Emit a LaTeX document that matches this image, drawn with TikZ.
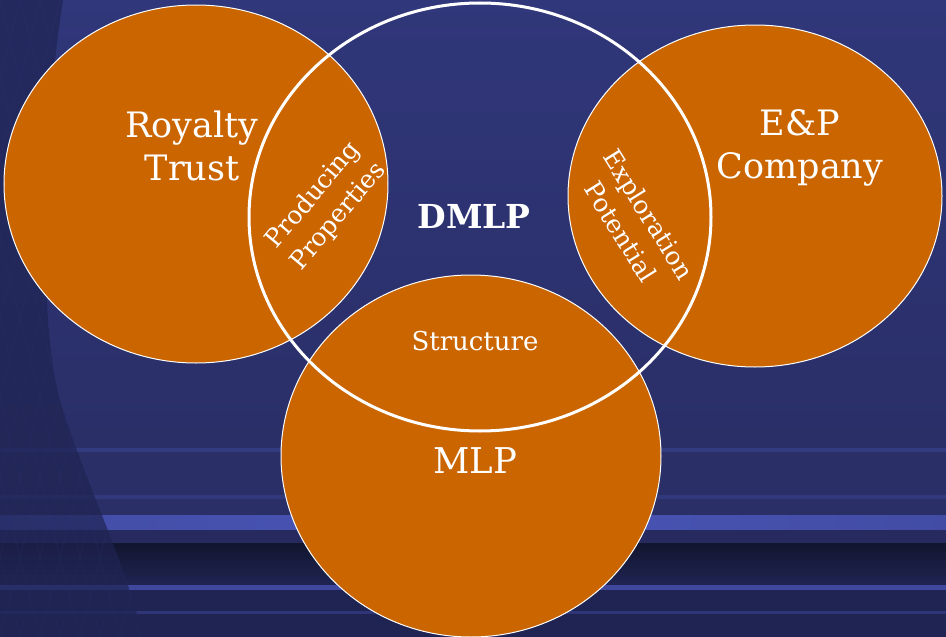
\documentclass[tikz,border=0pt]{standalone}
\usepackage{fontspec}
\setmainfont{DejaVu Serif}
\begin{document}
\definecolor{navy}{HTML}{2A2F68}
\definecolor{navytop}{HTML}{30377A}
\definecolor{navydark}{HTML}{1F2452}
\definecolor{band}{HTML}{4A56B8}
\definecolor{deep}{HTML}{12152E}
\definecolor{ochre}{HTML}{CA6500}
\begin{tikzpicture}[x=1pt,y=-1pt,
  venn/.style={fill=ochre,draw=white,line width=1pt},
  ring/.style={draw=white,line width=3pt},
  lbl/.style={text=white,align=center,inner sep=0pt},
  big/.style={lbl,font=\fontsize{35}{43}\selectfont},
  small/.style={lbl,font=\fontsize{25}{33}\selectfont}]
\useasboundingbox (0,0) rectangle (946,637);
% background
\shade[top color=navytop,bottom color=navy] (0,0) rectangle (946,440);
\fill[navy] (0,440) rectangle (946,637);
\fill[band!50!navy,opacity=0.6] (0,448) rectangle (946,452);
\fill[band!40!navy,opacity=0.6] (0,495) rectangle (946,499);
\shade[left color=band!75!navy,right color=band!75!navy,middle color=band] (0,515) rectangle (946,530);
\fill[navy!90!black] (0,530) rectangle (946,543);
\shade[top color=deep,bottom color=navydark] (0,543) rectangle (946,584);
\fill[band!65!navy] (0,585) rectangle (946,590);
\fill[navydark] (0,590) rectangle (946,637);
\fill[band!40!navy,opacity=0.7] (0,611) rectangle (946,614);
% dark curved strip at the left
\fill[navydark,opacity=0.7] (0,0) -- (63,0) .. controls (40,150) and (40,330) .. (60,400)
  .. controls (80,470) and (125,560) .. (143,637) -- (0,637) -- cycle;
\begin{scope}
  \clip (0,0) -- (63,0) .. controls (40,150) and (40,330) .. (60,400)
    .. controls (80,470) and (125,560) .. (143,637) -- (0,637) -- cycle;
  \foreach \k in {-600,-580,...,700}
    \draw[band!60!navy,opacity=0.15,line width=0.5pt] (\k,0) -- ++(160,637) (\k+160,0) -- ++(-160,637);
\end{scope}
% circles
\path[venn] (196,184) ellipse [x radius=192,y radius=179];
\path[venn] (755,196) ellipse [x radius=187,y radius=171];
\path[venn] (471,456) ellipse [x radius=190,y radius=181];
\path[ring] (480,217) ellipse [x radius=231,y radius=214];
% labels
\node[big] (rt) at (192,146) {Royalty\\Trust};
\node[big] (ep) at (800,148) {E\&P\\Company};
\node[small,rotate=50] (pp) at (326,206) {Producing\\Properties};
\node[small,rotate=-58] (xp) at (635,223) {Exploration\\Potential};
\node[lbl,font=\fontsize{33}{38}\selectfont\bfseries] (dm) at (474,216) {DMLP};
\node[lbl,font=\fontsize{26}{30}\selectfont] (st) at (475,341) {Structure};
\node[lbl,font=\fontsize{35.5}{40}\selectfont] (ml) at (475,461) {MLP};
\end{tikzpicture}
\end{document}
